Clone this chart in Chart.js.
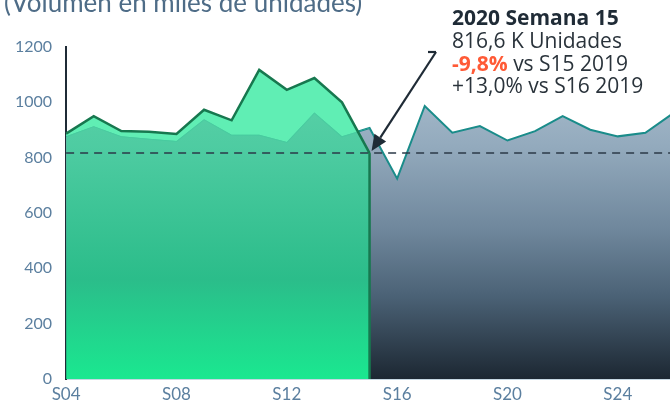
<!DOCTYPE html>
<html>
<head>
<meta charset="utf-8">
<script src="https://cdn.jsdelivr.net/npm/chart.js@4"></script>
<style>
html,body{margin:0;padding:0;background:#fff;overflow:hidden;}
#wrap{width:670px;height:411px;overflow:hidden;position:relative;}
canvas{display:block;}
</style>
</head>
<body>
<div id="wrap"><canvas id="c" width="680" height="411"></canvas></div>
<script>
// ---- data ----
const weeks = ['S04','S05','S06','S07','S08','S09','S10','S11','S12','S13','S14','S15','S16','S17','S18','S19','S20','S21','S22','S23','S24','S25','S26'];
const volume2019 = [877, 914, 877, 868, 860, 939, 883, 883, 857, 963, 877, 907, 724, 987, 890, 914, 862, 896, 950, 901, 877, 890, 960];
const volume2020 = [887, 950, 896, 894, 886, 973, 935, 1117, 1045, 1088, 1000, 816.6];
const yTicks = [0, 200, 400, 600, 800, 1000, 1200];
const refValue = 816.6;
const titleText = '(Volumen en miles de unidades)';
const noteTitle = '2020 Semana 15';
const noteLine1 = '816,6 K Unidades';
const noteLine2a = '-9,8%';
const noteLine2b = ' vs S15 2019';
const noteLine3 = '+13,0% vs S16 2019';

function grad(ctx, stops){
  const ca = ctx.chart.chartArea;
  if(!ca) return stops[0][1];
  const g = ctx.chart.ctx.createLinearGradient(0, ca.top, 0, ca.bottom);
  stops.forEach(s => g.addColorStop(s[0], s[1]));
  return g;
}
const grayStops = [[0,'#b2c5d4'],[0.3,'#93aabd'],[0.55,'#6f879c'],[0.75,'#4b6276'],[1,'#1c2732']];
const greenStops = [[0,'rgba(90,214,168,0.92)'],[0.3,'rgba(74,206,160,0.94)'],[0.7,'#2bbd8a'],[1,'#1ae890']];

const overlay = {
  id:'overlay',
  afterDatasetsDraw(chart){
    const {ctx, chartArea:ca, scales:{x,y}} = chart;
    const li = volume2020.length-1;
    const px = x.getPixelForValue(li), py = y.getPixelForValue(volume2020[li]);
    ctx.save();
    ctx.strokeStyle = '#17784f'; ctx.lineWidth = 2.5;
    ctx.beginPath(); ctx.moveTo(px, py); ctx.lineTo(px, y.getPixelForValue(0)); ctx.stroke();
    const ry = y.getPixelForValue(refValue);
    ctx.strokeStyle = '#2b3a48'; ctx.lineWidth = 1.6; ctx.setLineDash([8,6]);
    ctx.beginPath(); ctx.moveTo(ca.left, ry); ctx.lineTo(ca.right, ry); ctx.stroke();
    ctx.restore();
  },
  afterDraw(chart){
    const {ctx, scales:{x,y}} = chart;
    ctx.save();
    ctx.fillStyle = '#4e6c87';
    ctx.font = '26px Lato';
    ctx.textBaseline = 'alphabetic'; ctx.textAlign = 'left';
    ctx.fillText(titleText, 4, 12);
    const tx = 452;
    ctx.fillStyle = '#1f2b36';
    ctx.font = 'bold 21px "Open Sans"';
    ctx.fillText(noteTitle, tx, 25);
    ctx.font = '21px "Open Sans"';
    ctx.fillStyle = '#2a333b';
    ctx.fillText(noteLine1, tx, 48);
    ctx.font = 'bold 21px "Open Sans"';
    ctx.fillStyle = '#ff5a36';
    ctx.fillText(noteLine2a, tx, 71);
    const w = ctx.measureText(noteLine2a).width;
    ctx.font = '21px "Open Sans"';
    ctx.fillStyle = '#2a333b';
    ctx.fillText(noteLine2b, tx + w, 71);
    ctx.fillText(noteLine3, tx, 93);
    const li = volume2020.length-1;
    const px = x.getPixelForValue(li)+2, py = y.getPixelForValue(volume2020[li])-2;
    const sx = 436, sy = 52;
    ctx.strokeStyle = '#1f2b36'; ctx.fillStyle = '#1f2b36'; ctx.lineWidth = 2.2;
    ctx.beginPath(); ctx.moveTo(428, sy); ctx.lineTo(sx, sy); ctx.stroke();
    const ang = Math.atan2(py - sy, px - sx);
    const hl = 16, hw = 7;
    const bx = px - hl*Math.cos(ang), by = py - hl*Math.sin(ang);
    ctx.beginPath(); ctx.moveTo(sx, sy); ctx.lineTo(bx, by); ctx.stroke();
    ctx.beginPath();
    ctx.moveTo(px, py);
    ctx.lineTo(bx + hw*Math.sin(ang), by - hw*Math.cos(ang));
    ctx.lineTo(bx - hw*Math.sin(ang), by + hw*Math.cos(ang));
    ctx.closePath(); ctx.fill();
    ctx.restore();
  }
};

new Chart(document.getElementById('c'), {
  type:'line',
  data:{
    labels: weeks,
    datasets:[
      { label:'2019', data: volume2019, fill:'origin', borderColor:'#1a8c8a', borderWidth:2, order:3,
        backgroundColor: ctx => grad(ctx, grayStops), pointRadius:0, tension:0 },
      { label:'2020', data: volume2020, fill:'origin', borderColor:'rgba(0,0,0,0)', borderWidth:0, order:2,
        backgroundColor: ctx => grad(ctx, greenStops), pointRadius:0, tension:0 },
      { label:'2020 sobre 2019', data: volume2020, fill:{target:0, above:'#60eeb4', below:'rgba(0,0,0,0)'}, order:1,
        borderColor:'#17784f', borderWidth:2.5, backgroundColor:'#60eeb4', pointRadius:0, tension:0 }
    ]
  },
  options:{
    responsive:false, devicePixelRatio:1, animation:false,
    layout:{padding:{top:47, left:1, right:6, bottom:1}},
    plugins:{legend:{display:false}, tooltip:{enabled:false}, filler:{drawTime:'beforeDatasetDraw'}},
    scales:{
      x:{
        grid:{display:false, drawTicks:false},
        border:{color:'#c6d8e3', width:2},
        ticks:{autoSkip:false, maxRotation:0, padding:7, color:'#5b7f9f', font:{family:'Lato', size:17, lineHeight:1.0},
          callback:(v,i)=> (i%4===0 ? weeks[i] : '')}
      },
      y:{
        min:0, max:1200,
        afterBuildTicks: s => { s.ticks = yTicks.map(v=>({value:v})); },
        grid:{display:false, drawTicks:false},
        border:{color:'#1f2b36', width:2},
        ticks:{padding:14, color:'#5b7f9f', font:{family:'Lato', size:16}, callback: v => String(v)}
      }
    }
  },
  plugins:[overlay]
});
</script>
</body>
</html>
